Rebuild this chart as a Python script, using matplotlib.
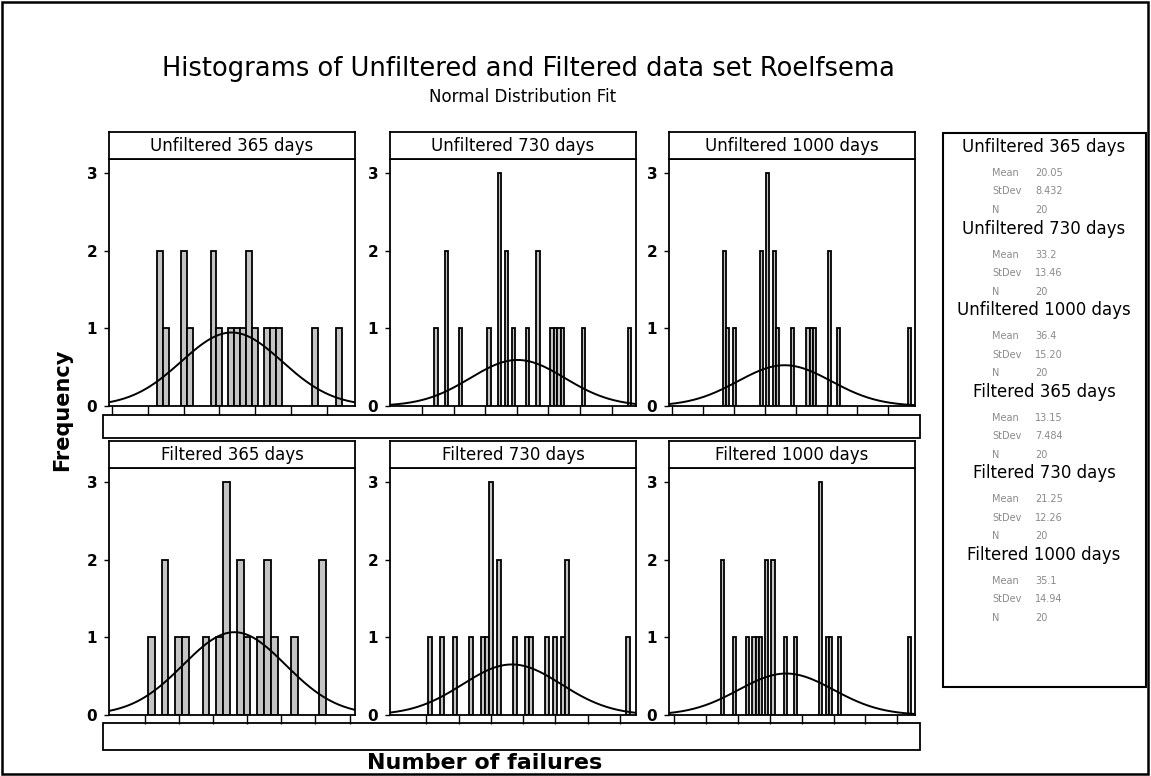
import matplotlib
matplotlib.use("Agg")
import matplotlib.pyplot as plt
import numpy as np
from matplotlib.patches import Rectangle

# failures per unit (histogram bin value) and how many units fall in that bin
u365_values = [8, 9, 12, 13, 17, 18, 20, 21, 22, 23, 24, 26, 27, 28, 34, 38]
u365_counts = [2, 1, 2, 1, 2, 1, 1, 1, 1, 2, 1, 1, 1, 1, 1, 1]
u730_values = [10, 13, 17, 25, 28, 30, 32, 36, 39, 43, 44, 45, 46, 52, 65]
u730_counts = [1, 2, 1, 1, 3, 2, 1, 1, 2, 1, 1, 1, 1, 1, 1]
u1000_values = [17, 18, 20, 29, 31, 33, 34, 39, 44, 45, 46, 51, 54, 77]
u1000_counts = [2, 1, 1, 2, 3, 2, 1, 1, 1, 1, 1, 2, 1, 1]
f365_values = [1, 3, 5, 6, 9, 11, 12, 14, 15, 17, 18, 19, 22, 26]
f365_counts = [1, 2, 1, 1, 1, 1, 3, 2, 1, 1, 2, 1, 1, 2]
f730_values = [1, 4, 7, 11, 14, 15, 16, 18, 22, 25, 26, 30, 32, 34, 35, 50]
f730_counts = [1, 1, 1, 1, 1, 1, 3, 2, 1, 1, 1, 1, 1, 1, 2, 1]
f1000_values = [15, 19, 23, 25, 26, 27, 29, 31, 35, 38, 46, 48, 49, 52, 74]
f1000_counts = [2, 1, 1, 1, 1, 1, 2, 2, 1, 1, 3, 1, 1, 1, 1]

panel_titles = ["Unfiltered 365 days", "Unfiltered 730 days", "Unfiltered 1000 days",
                "Filtered 365 days", "Filtered 730 days", "Filtered 1000 days"]

# normal fit parameters shown in the side table
fit_mean = [20.05, 33.2, 36.4, 13.15, 21.25, 35.1]
fit_stdev = [8.432, 13.46, 15.20, 7.484, 12.26, 14.94]
fit_n = [20, 20, 20, 20, 20, 20]

panel_values = [u365_values, u730_values, u1000_values, f365_values, f730_values, f1000_values]
panel_counts = [u365_counts, u730_counts, u1000_counts, f365_counts, f730_counts, f1000_counts]
panel_xlim = [(-0.5, 40.7), (-3.1, 66.9), (-1.1, 78.7), (-5.2, 30.8), (-9.0, 52.0), (-1.7, 75.6)]
panel_xticks = [range(0, 37, 6), range(6, 61, 9), range(0, 71, 10),
                range(0, 31, 5), range(0, 49, 8), range(0, 71, 10)]

W, H = 1151, 776
fig = plt.figure(figsize=(W / 100, H / 100), dpi=100)


def frac(x, y, w, h):
    """pixel box (top-left origin) -> figure fraction rect"""
    return [x / W, 1 - (y + h) / H, w / W, h / H]


def px_rect(x0, y0, x1, y1, lw=1.2):
    fig.add_artist(Rectangle((x0 / W, 1 - y1 / H), (x1 - x0) / W, (y1 - y0) / H,
                             transform=fig.transFigure, fill=False, ec="black", lw=lw))


col_left = [109, 390, 669]
row_top = [159, 468]
pw, ph, hdr = 246, 247, 27

for i in range(6):
    r, c = divmod(i, 3)
    x0, y0 = col_left[c], row_top[r]

    ax = fig.add_axes(frac(x0, y0, pw, ph))
    ax.bar(panel_values[i], panel_counts[i], width=1.0, color="#c4c4c4",
           edgecolor="black", linewidth=1.3)
    lo, hi = panel_xlim[i]
    xs = np.linspace(lo, hi, 300)
    m, s, n = fit_mean[i], fit_stdev[i], fit_n[i]
    ax.plot(xs, n * np.exp(-0.5 * ((xs - m) / s) ** 2) / (s * np.sqrt(2 * np.pi)),
            color="black", lw=1.4)
    ax.set_xlim(lo, hi)
    ax.set_ylim(0, 3.18)
    ax.set_xticks(list(panel_xticks[i]))
    ax.set_xticklabels([])
    ax.set_yticks([0, 1, 2, 3])
    ax.tick_params(axis="x", direction="out", length=6.3, width=1.0)
    ax.tick_params(axis="y", direction="out", length=3.5, width=1.0, pad=5,
                   labelsize=11)
    for lab in ax.get_yticklabels():
        lab.set_fontweight("bold")
    for sp in ax.spines.values():
        sp.set_linewidth(1.3)

    hax = fig.add_axes(frac(x0, y0 - hdr, pw, hdr))
    hax.set_xticks([])
    hax.set_yticks([])
    for sp in hax.spines.values():
        sp.set_linewidth(1.3)
    hax.text(0.5, 0.48, panel_titles[i], ha="center", va="center", fontsize=12,
             transform=hax.transAxes)

# blank scale strips under each row
px_rect(103, 415, 920, 438, lw=1.3)
px_rect(103, 723, 920, 750, lw=1.3)

# side table with the fit parameters
px_rect(943, 133, 1146, 687, lw=1.5)
for i, name in enumerate(panel_titles):
    gy = 147 + i * 81.6
    fig.text(1044 / W, 1 - gy / H, name, ha="center", va="center", fontsize=12)
    rows = [("Mean", f"{fit_mean[i]:g}"), ("StDev", f"{fit_stdev[i]:#.4g}"),
            ("N", f"{fit_n[i]}")]
    for k, (lab, val) in enumerate(rows):
        ry = gy + 26 + k * 18.5
        fig.text(992 / W, 1 - ry / H, lab, ha="left", va="center", fontsize=7,
                 color="#8a8a8a")
        fig.text(1035 / W, 1 - ry / H, val, ha="left", va="center", fontsize=7,
                 color="#8a8a8a")

fig.text(528 / W, 1 - 69 / H, "Histograms of Unfiltered and Filtered data set Roelfsema",
         ha="center", va="center", fontsize=18.5)
fig.text(523 / W, 1 - 97 / H, "Normal Distribution Fit", ha="center", va="center",
         fontsize=12)
fig.text(62 / W, 1 - 410 / H, "Frequency", ha="center", va="center", rotation=90,
         fontsize=15, fontweight="bold")
fig.text(485 / W, 1 - 763 / H, "Number of failures", ha="center", va="center",
         fontsize=16, fontweight="bold")

# outer frame
px_rect(2, 2, 1148, 774, lw=1.8)

fig.savefig("out.png", dpi=100)
